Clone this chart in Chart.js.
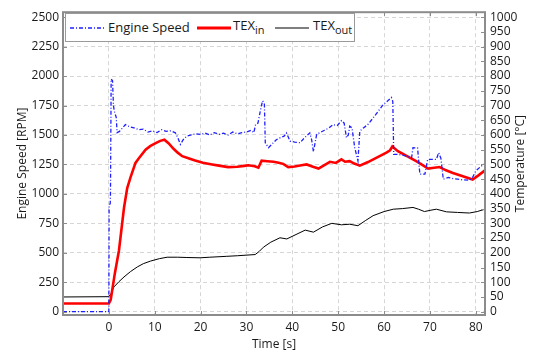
<!DOCTYPE html>
<html>
<head>
<meta charset="utf-8">
<script src="https://cdn.jsdelivr.net/npm/chart.js@4.4.0/dist/chart.umd.min.js"></script>
<style>
  body { margin: 0; background: #fff; }
  #wrap { position: relative; width: 539px; height: 353px; }
  #legend {
    position: absolute; left: 65px; top: 13px; width: 290px; height: 29px;
    box-sizing: border-box; border: 1px solid #9a9a9a; background: #fff;
    font: 13px "Open Sans", sans-serif; color: #1a1a1a;
  }
  #legend svg, #legend span { position: absolute; }
  #legend sub { font-size: 11px; vertical-align: -4px; }
</style>
</head>
<body>
<div id="wrap">
  <canvas id="chart" width="539" height="353"></canvas>
  <div id="legend">
    <svg style="left:4px;top:8px" width="34" height="12"><line x1="0" y1="6" x2="34" y2="6" stroke="#1f1fff" stroke-width="1.5" stroke-dasharray="4,2,1,2"/></svg>
    <span style="left:42px;top:4px">Engine Speed</span>
    <svg style="left:131px;top:8px" width="34" height="12"><line x1="0" y1="6" x2="34" y2="6" stroke="#ff0000" stroke-width="3"/></svg>
    <span style="left:167px;top:2px">TEX<sub>in</sub></span>
    <svg style="left:209px;top:8px" width="34" height="12"><line x1="0" y1="6" x2="34" y2="6" stroke="#000" stroke-width="1.2"/></svg>
    <span style="left:247px;top:2px">TEX<sub>out</sub></span>
  </div>
</div>
<script>
const speedTime = [-10, 0, 0.05, 0.3, 0.35, 0.5, 0.8, 1.0, 1.2, 1.6, 1.8, 2.3, 3, 3.6, 4.5, 5.5, 6.5, 7.5, 8.5, 9.5, 10.5, 11.5, 12.5, 13.5, 14.5, 15, 15.6, 16.2, 17, 18, 19, 20, 21, 22, 23, 24, 25, 26, 27, 28, 29, 30, 31, 31.6, 32, 32.5, 33, 33.5, 33.9, 34.1, 34.8, 35.5, 36.5, 37.3, 38.2, 38.7, 39.5, 40.5, 41.7, 42.5, 43.3, 43.8, 44.2, 44.6, 45.3, 46, 47, 48, 48.9, 49.8, 50.7, 51.3, 51.8, 52.2, 52.5, 53, 53.6, 54.3, 54.7, 55.5, 56.5, 57.6, 58.5, 59.8, 60.8, 61.6, 61.9, 62.1, 63, 64, 65, 66, 66.3, 67.3, 67.8, 68.9, 69.5, 71.4, 71.9, 72.4, 72.9, 74, 75, 76, 77, 78.6, 79.3, 80, 81, 82];
const speedRpm = [0, 0, 900, 920, 1000, 1975, 1960, 1750, 1700, 1650, 1520, 1530, 1560, 1588, 1570, 1560, 1545, 1550, 1525, 1535, 1520, 1545, 1530, 1535, 1518, 1480, 1420, 1460, 1490, 1500, 1510, 1505, 1515, 1500, 1520, 1505, 1515, 1500, 1525, 1510, 1520, 1525, 1540, 1520, 1590, 1600, 1700, 1790, 1770, 1434, 1392, 1420, 1460, 1476, 1490, 1518, 1448, 1440, 1434, 1470, 1500, 1518, 1460, 1358, 1504, 1520, 1540, 1560, 1588, 1580, 1622, 1600, 1476, 1500, 1574, 1560, 1392, 1280, 1532, 1560, 1590, 1644, 1690, 1757, 1790, 1818, 1785, 1336, 1335, 1328, 1320, 1307, 1392, 1390, 1167, 1167, 1293, 1293, 1350, 1300, 1125, 1139, 1130, 1125, 1120, 1117, 1140, 1195, 1230, 1257];

const texInTime = [-10, 0, 0.4, 1.3, 2.2, 3.3, 4, 4.7, 5.8, 6.5, 8, 9, 10.2, 11.2, 12.1, 13, 14.1, 15, 16, 17.5, 18.8, 20.5, 22.5, 24, 26, 28, 29.5, 30.4, 31.8, 32.6, 33.3, 34.5, 35.9, 37, 38, 39.1, 40.5, 42, 43.1, 44.5, 45.7, 46.8, 48.2, 49.5, 50.7, 51.5, 52.5, 53.5, 54.7, 56.5, 58.5, 60.5, 61.3, 61.8, 63, 65, 67, 68.5, 69.6, 70.5, 72.1, 73.5, 75, 77, 79.3, 80.5, 82];
const texInTemp = [28, 28, 40, 130, 208, 353, 420, 455, 505, 520, 550, 562, 572, 580, 584, 572, 553, 540, 528, 520, 513, 506, 500, 496, 491, 492, 495, 497, 494, 489, 513, 511, 509, 506, 502, 491, 493, 497, 500, 492, 486, 496, 509, 505, 517, 509, 511, 503, 496, 508, 524, 540, 548, 561, 545, 528, 511, 497, 486, 488, 491, 480, 471, 461, 449, 462, 480];

const texOutTime = [-10, 0, 0.5, 1.1, 2.2, 3.3, 4.7, 6.2, 7.5, 9.1, 11, 12.7, 15, 17, 19.9, 22, 25.7, 28, 31.9, 32.8, 33.7, 35.3, 37.3, 38.8, 40.8, 42.8, 44.6, 46.6, 48.6, 50.7, 52.5, 54.3, 56, 57.6, 60, 62, 64, 66.3, 67.5, 68.8, 70, 71.4, 73.6, 76, 78.6, 80.3, 82];
const texOutTemp = [50, 51, 62, 84, 102, 118, 136, 152, 163, 172, 180, 185, 185, 184, 183, 185, 188, 190, 194, 205, 219, 236, 251, 247, 262, 277, 270, 288, 300, 295, 297, 292, 310, 326, 340, 348, 350, 354, 348, 340, 344, 348, 339, 337, 335, 340, 348];

const timeTicks = [0, 10, 20, 30, 40, 50, 60, 70, 80];
const rpmTicks = [0, 250, 500, 750, 1000, 1250, 1500, 1750, 2000, 2250, 2500];
const tempTicks = [0, 50, 100, 150, 200, 250, 300, 350, 400, 450, 500, 550, 600, 650, 700, 750, 800, 850, 900, 950, 1000];

const pts = (xs, ys) => xs.map((x, i) => ({ x: x, y: ys[i] }))
const font = { family: "'Open Sans', sans-serif", size: 12 }
const textColor = "#1a1a1a"
const gridColor = "#d6d6d6"
const plain = v => String(v)

const frame = {
    id: "frame",
    afterDatasetsDraw(chart) {
        const { ctx, chartArea: a, scales } = chart
        ctx.save()
        ctx.strokeStyle = "#8c8c8c"
        ctx.lineWidth = 1
        ctx.beginPath()
        timeTicks.forEach(v => {
            const px = Math.round(scales.x.getPixelForValue(v)) + 0.5
            ctx.moveTo(px, a.bottom); ctx.lineTo(px, a.bottom - 4)
            ctx.moveTo(px, a.top); ctx.lineTo(px, a.top + 4)
        })
        rpmTicks.forEach(v => {
            const py = Math.round(scales.y.getPixelForValue(v)) + 0.5
            ctx.moveTo(a.left, py); ctx.lineTo(a.left + 4, py)
        })
        tempTicks.forEach(v => {
            const py = Math.round(scales.y2.getPixelForValue(v)) + 0.5
            ctx.moveTo(a.right, py); ctx.lineTo(a.right - 4, py)
        })
        ctx.stroke()
        ctx.lineWidth = 2
        ctx.strokeRect(a.left, a.top, a.right - a.left, a.bottom - a.top)
        ctx.restore()
    },
    afterDraw(chart) {
        const { ctx, chartArea: a } = chart
        ctx.save()
        ctx.translate(521, (a.top + a.bottom) / 2)
        ctx.rotate(-Math.PI / 2)
        ctx.font = "12px 'Open Sans', sans-serif"
        ctx.fillStyle = textColor
        ctx.textAlign = "center"
        ctx.textBaseline = "middle"
        ctx.fillText("Temperature [°C]", 0, 0)
        ctx.restore()
    }
}

new Chart(document.querySelector("#chart"), {
    type: "line",
    data: {
        datasets: [
            { label: "Engine Speed", data: pts(speedTime, speedRpm), yAxisID: "y", borderColor: "#1f1fff", borderWidth: 1.3, borderDash: [4, 2, 1, 2], pointRadius: 0 },
            { label: "TEXin", data: pts(texInTime, texInTemp), yAxisID: "y2", borderColor: "#ff0000", borderWidth: 2.6, pointRadius: 0 },
            { label: "TEXout", data: pts(texOutTime, texOutTemp), yAxisID: "y2", borderColor: "#000000", borderWidth: 1, pointRadius: 0 }
        ]
    },
    options: {
        responsive: false,
        animation: false,
        devicePixelRatio: 1,
        layout: { padding: { top: 10, left: 0, right: 0, bottom: 0 } },
        plugins: { legend: { display: false }, tooltip: { enabled: false } },
        scales: {
            x: {
                type: "linear", min: -10, max: 82,
                afterBuildTicks: s => { s.ticks = timeTicks.map(v => ({ value: v })) },
                afterFit: s => { s.height = 38 },
                ticks: { font: font, color: textColor, padding: 5, autoSkip: false, maxRotation: 0, callback: plain },
                grid: { color: gridColor, drawTicks: false },
                border: { display: false, dash: [4, 3] },
                title: { display: true, text: "Time [s]", font: font, color: textColor, padding: { top: 0, bottom: 1 } }
            },
            y: {
                type: "linear", position: "left", min: -28, max: 2542,
                afterBuildTicks: s => { s.ticks = rpmTicks.map(v => ({ value: v })) },
                afterFit: s => { s.width = 63 },
                ticks: { font: font, color: textColor, padding: 4, autoSkip: false, callback: plain },
                grid: { color: gridColor, drawTicks: false },
                border: { display: false, dash: [4, 3] },
                title: { display: true, text: "Engine Speed [RPM]", font: font, color: textColor, padding: { top: 15, bottom: 0 } }
            },
            y2: {
                type: "linear", position: "right", min: -11.2, max: 1016.8,
                afterBuildTicks: s => { s.ticks = tempTicks.map(v => ({ value: v })) },
                afterFit: s => { s.width = 54 },
                ticks: { font: font, color: textColor, padding: 5, autoSkip: false, callback: plain },
                grid: { drawOnChartArea: false, drawTicks: false },
                border: { display: false }
            }
        }
    },
    plugins: [frame]
})
</script>
</body>
</html>
